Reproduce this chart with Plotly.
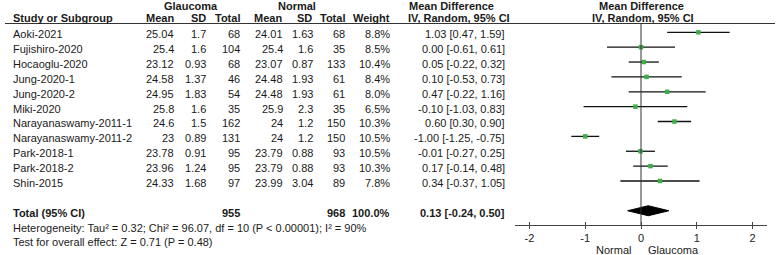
import plotly.graph_objects as go

# ---------------- data ----------------
studies = ["Aoki-2021", "Fujishiro-2020", "Hocaoglu-2020", "Jung-2020-1", "Jung-2020-2",
           "Miki-2020", "Narayanaswamy-2011-1", "Narayanaswamy-2011-2", "Park-2018-1",
           "Park-2018-2", "Shin-2015"]
g_mean = ["25.04", "25.4", "23.12", "24.58", "24.95", "25.8", "24.6", "23", "23.78", "23.96", "24.33"]
g_sd = ["1.7", "1.6", "0.93", "1.37", "1.83", "1.6", "1.5", "0.89", "0.91", "1.24", "1.68"]
g_n = [68, 104, 68, 46, 54, 35, 162, 131, 95, 95, 97]
n_mean = ["24.01", "25.4", "23.07", "24.48", "24.48", "25.9", "24", "24", "23.79", "23.79", "23.99"]
n_sd = ["1.63", "1.6", "0.87", "1.93", "1.93", "2.3", "1.2", "1.2", "0.88", "0.88", "3.04"]
n_n = [68, 35, 133, 61, 61, 35, 150, 150, 93, 93, 89]
weight = [8.8, 8.5, 10.4, 8.4, 8.0, 6.5, 10.3, 10.5, 10.5, 10.3, 7.8]
md = [1.03, 0.00, 0.05, 0.10, 0.47, -0.10, 0.60, -1.00, -0.01, 0.17, 0.34]
ci_lo = [0.47, -0.61, -0.22, -0.53, -0.22, -1.03, 0.30, -1.25, -0.27, -0.14, -0.37]
ci_hi = [1.59, 0.61, 0.32, 0.73, 1.16, 0.83, 0.90, -0.75, 0.25, 0.48, 1.05]

total_g_n = 955
total_n_n = 968
total_weight = 100.0
total_md, total_lo, total_hi = 0.13, -0.24, 0.50

heterogeneity = "Heterogeneity: Tau² = 0.32; Chi² = 96.07, df = 10 (P < 0.00001); I² = 90%"
overall = "Test for overall effect: Z = 0.71 (P = 0.48)"
x_ticks = [-2, -1, 0, 1, 2]

# ---------------- layout helpers ----------------
W, H = 777, 255
ROW0, ROWH = 32.3, 14.87          # pixel y of first row, row spacing


def py2row(py):
    return (py - ROW0) / ROWH


def px(p):
    return p / W


FONT = "Arial, Liberation Sans, sans-serif"
TXT = "#1a1a1a"
rows = list(range(len(studies)))
total_row = len(studies) + 1
het_row = total_row + 1
test_row = total_row + 1.95
hdr1 = py2row(5.5)
hdr2 = py2row(18)
TOFF = 0.13  # text vertical offset (rows)

fig = go.Figure()

# CI whiskers
cx, cy = [], []
for r, a, b in zip(rows, ci_lo, ci_hi):
    cx += [a, b, None]
    cy += [r, r, None]
fig.add_trace(go.Scatter(x=cx, y=cy, mode="lines", line=dict(color="#111111", width=1.3),
                         hoverinfo="skip", showlegend=False))
# point estimates
fig.add_trace(go.Scatter(x=md, y=rows, mode="markers",
                         marker=dict(symbol="square", size=4.5, color="#3fae49", line=dict(width=0)),
                         showlegend=False))
# diamond
dh = 5 / ROWH
fig.add_trace(go.Scatter(x=[total_lo, total_md, total_hi, total_md, total_lo],
                         y=[total_row, total_row - dh, total_row, total_row + dh, total_row],
                         mode="lines", fill="toself", fillcolor="#000000",
                         line=dict(color="#000000", width=1), showlegend=False))
# dummy trace for crossing ticks axis
fig.add_trace(go.Scatter(x=[0], y=[0], xaxis="x2", mode="markers",
                         marker=dict(opacity=0), showlegend=False, hoverinfo="skip"))

ann = []


def add(text, x, y, anchor="right", bold=False, size=11):
    if bold:
        text = "<b>" + text + "</b>"
    ann.append(dict(text=text, x=x, y=y, xref="paper", yref="y", xanchor=anchor,
                    yanchor="middle", showarrow=False, font=dict(family=FONT, size=size, color=TXT)))


# headers
add("Glaucoma", px(190.5), hdr1, "center", True)
add("Normal", px(296.5), hdr1, "center", True)
add("Mean Difference", px(407), hdr1, "left", True)
add("Mean Difference", px(641), hdr1, "center", True)
add("Study or Subgroup", px(11), hdr2, "left", True)
add("Mean", px(176), hdr2, "right", True)
add("SD", px(208), hdr2, "right", True)
add("Total", px(242), hdr2, "right", True)
add("Mean", px(251.5), hdr2, "left", True)
add("SD", px(314), hdr2, "right", True)
add("Total", px(347), hdr2, "right", True)
add("Weight", px(392), hdr2, "right", True)
add("IV, Random, 95% CI", px(405.5), hdr2, "left", True)
add("IV, Random, 95% CI", px(643), hdr2, "center", True)

# study rows
for i, r in enumerate(rows):
    y = r + TOFF
    add(studies[i], px(11), y, "left")
    add(g_mean[i], px(176), y)
    add(g_sd[i], px(208), y)
    add(str(g_n[i]), px(242), y)
    add(n_mean[i], px(285), y)
    add(n_sd[i], px(315), y)
    add(str(n_n[i]), px(347), y)
    add(f"{weight[i]:.1f}%", px(392), y)
    add(f"{md[i]:.2f} [{ci_lo[i]:.2f}, {ci_hi[i]:.2f}]", px(507), y)

# totals
y = total_row + TOFF
add("Total (95% CI)", px(11), y, "left", True)
add(str(total_g_n), px(242), y, "right", True)
add(str(total_n_n), px(347), y, "right", True)
add(f"{total_weight:.1f}%", px(392), y, "right", True)
add(f"{total_md:.2f} [{total_lo:.2f}, {total_hi:.2f}]", px(507), y, "right", True)
add(heterogeneity, px(11), het_row + TOFF, "left")
add(overall, px(11), test_row + TOFF, "left")

# favours labels
for t, xv, anc in [("Normal", -0.143, "right"), ("Glaucoma", 0.09, "left")]:
    ann.append(dict(text=t, x=xv, y=py2row(249.5), xref="x", yref="y", xanchor=anc,
                    yanchor="middle", showarrow=False, font=dict(family=FONT, size=11, color=TXT)))

axis_py = 225
axis_pos = 1 - axis_py / H
shapes = [
    dict(type="line", xref="paper", yref="y", x0=px(5), x1=px(775),
         y0=py2row(23.5), y1=py2row(23.5), line=dict(color="#333333", width=1)),
    dict(type="line", xref="x", yref="y", x0=0, x1=0,
         y0=py2row(23.5), y1=py2row(axis_py), line=dict(color="#333333", width=1)),
]

xdom = [px(515), px(767)]
xr = [-2.26, 2.26]
fig.update_layout(
    width=W, height=H, margin=dict(l=0, r=0, t=0, b=0, autoexpand=False),
    paper_bgcolor="white", plot_bgcolor="white",
    annotations=ann, shapes=shapes, showlegend=False,
    xaxis=dict(domain=xdom, range=xr, anchor="free", position=axis_pos,
               tickvals=x_ticks, ticktext=[str(v) for v in x_ticks],
               ticks="outside", ticklen=3, tickwidth=1, tickcolor="#444444",
               showline=True, linecolor="#444444", linewidth=1,
               showgrid=False, zeroline=False, automargin=False,
               tickfont=dict(family=FONT, size=11, color=TXT)),
    xaxis2=dict(domain=xdom, range=xr, anchor="free", position=axis_pos, overlaying="x",
                tickvals=x_ticks, ticks="inside", ticklen=3, tickwidth=1, tickcolor="#444444",
                showticklabels=False, showline=False, showgrid=False, zeroline=False,
                automargin=False),
    yaxis=dict(domain=[0, 1], range=[py2row(H), py2row(0)], visible=False,
               showgrid=False, zeroline=False, automargin=False),
)

fig.write_html("out.html", config={"displayModeBar": False},
               post_script="document.body.style.margin='0';document.body.style.overflow='hidden';")
